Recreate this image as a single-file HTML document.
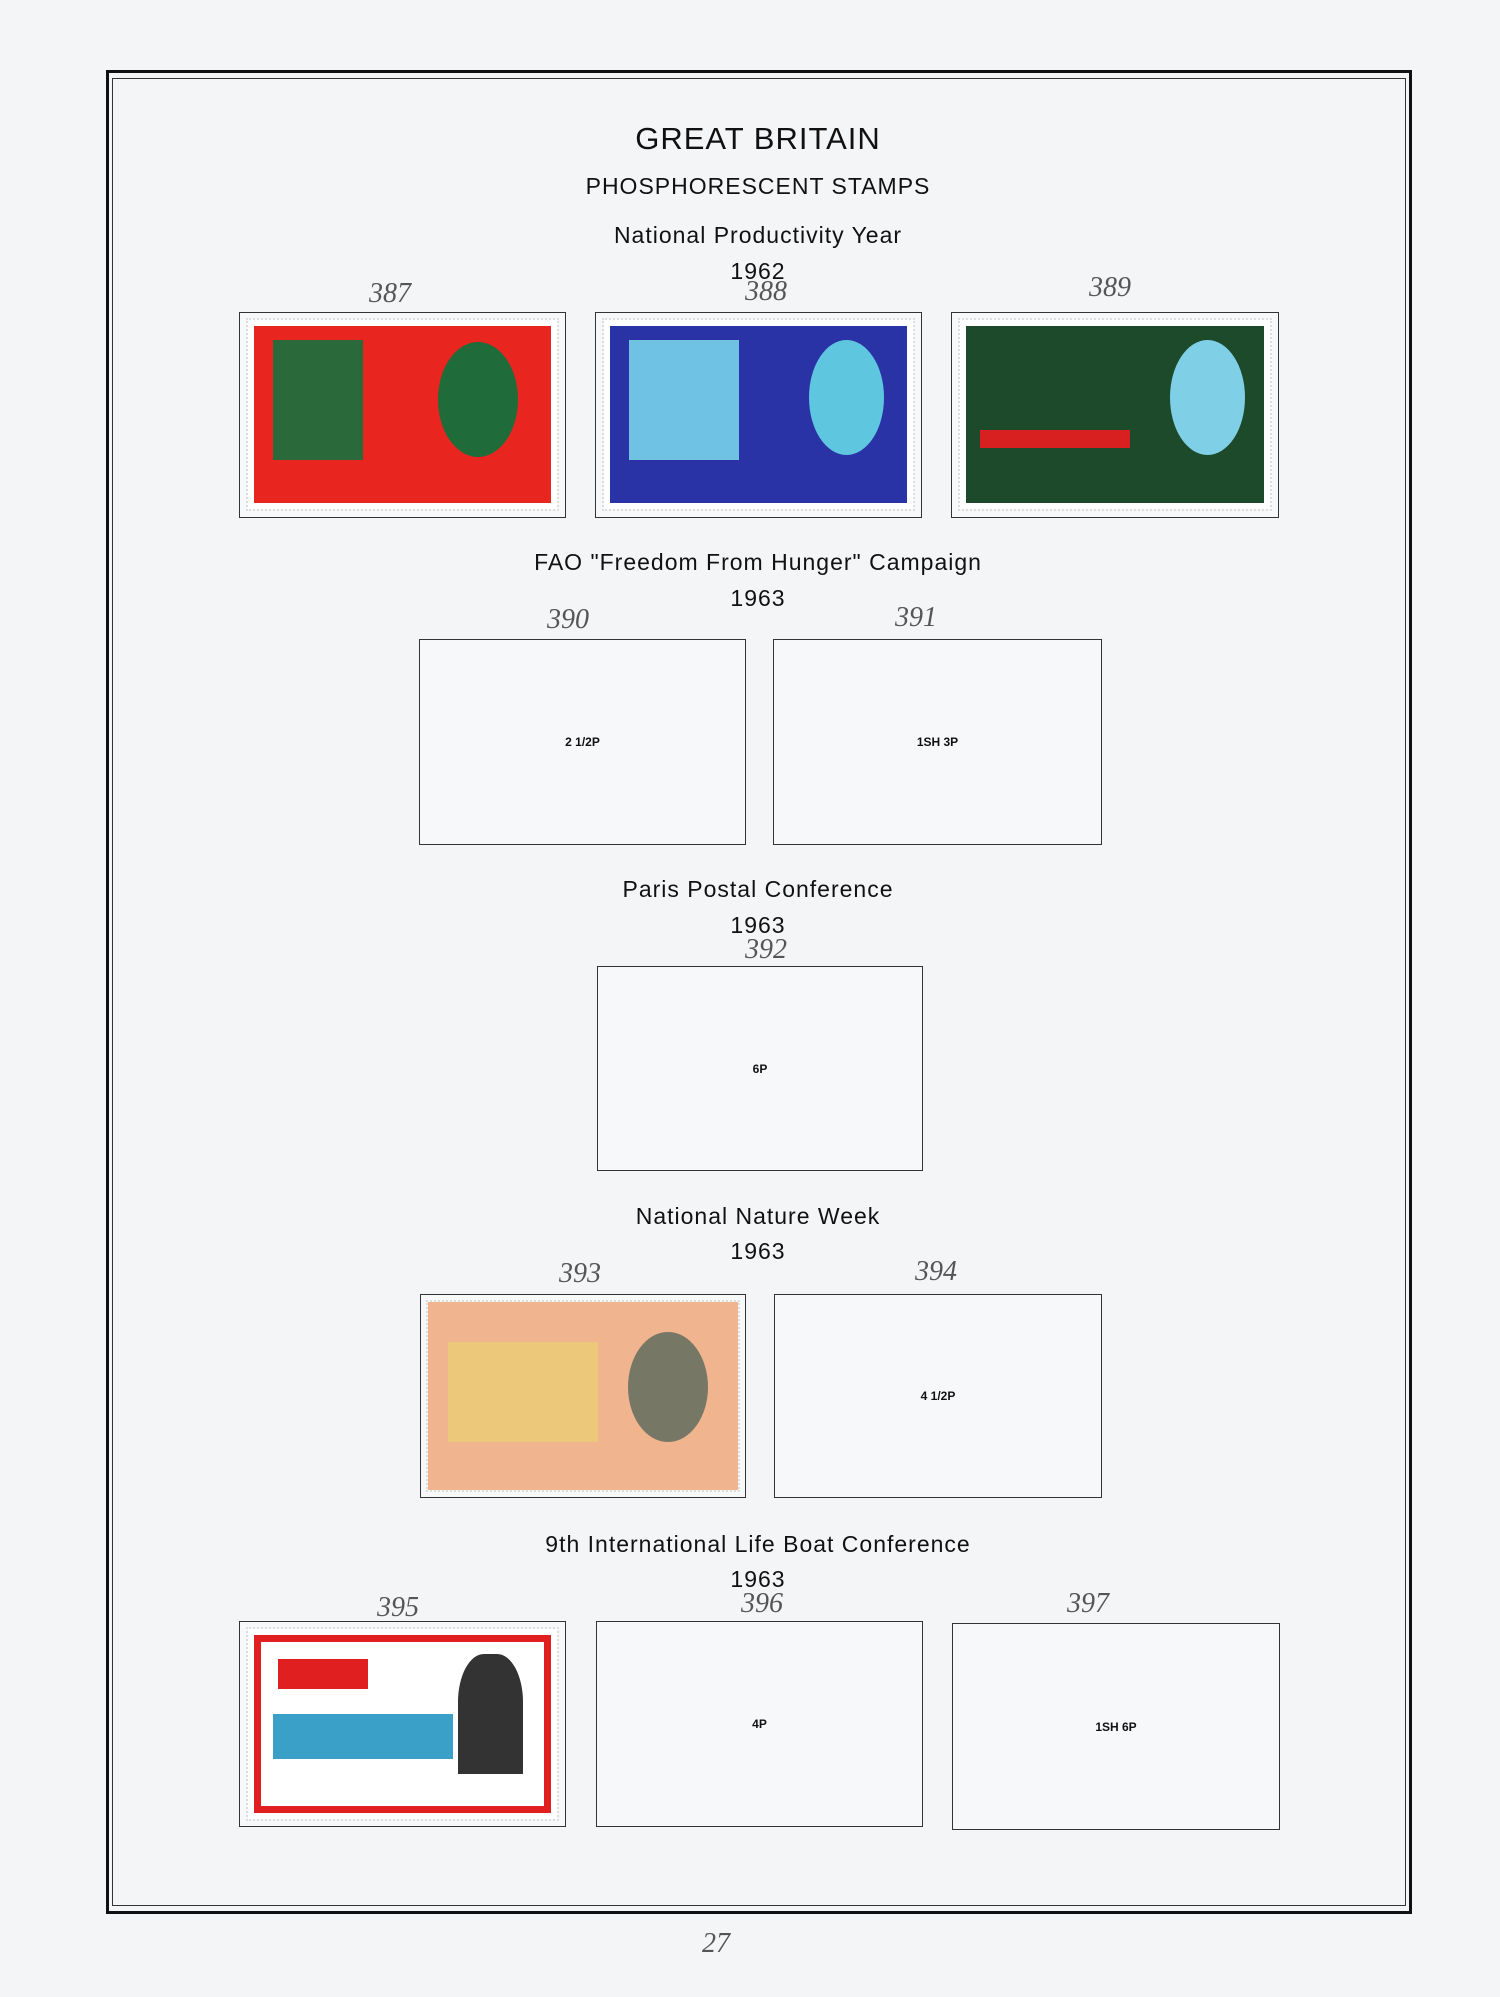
<!DOCTYPE html>
<html><head><meta charset="utf-8"><style>
body{margin:0;width:1500px;height:1997px;background:#f4f5f7;position:relative;overflow:hidden;font-family:"Liberation Sans",sans-serif;color:#111}
.a{position:absolute}
.t{position:absolute;left:0;width:1516px;text-align:center;letter-spacing:1px}
.box{position:absolute;border:1.5px solid #333;box-sizing:border-box;background:#f7f8fa;display:flex;align-items:center;justify-content:center;font-size:12px;font-weight:bold}
.hw{position:absolute;font-family:"Liberation Serif",serif;font-style:italic;font-size:28px;color:#555;width:120px;text-align:center}
.st{position:absolute;background:#fff;outline:2px dotted #ddd}
</style></head><body>
<div class="a" style="left:106px;top:70px;width:1300px;height:1838px;border:3px solid #111"></div>
<div class="a" style="left:112px;top:78px;width:1292px;height:1826px;border:1.5px solid #333"></div>
<div class="t" style="top:121px;font-size:31px">GREAT BRITAIN</div>
<div class="t" style="top:173px;font-size:23px">PHOSPHORESCENT STAMPS</div>
<div class="t" style="top:222px;font-size:23px">National Productivity Year</div>
<div class="t" style="top:258px;font-size:23px">1962</div>
<div class="t" style="top:549px;font-size:23px">FAO "Freedom From Hunger" Campaign</div>
<div class="t" style="top:585px;font-size:23px">1963</div>
<div class="t" style="top:876px;font-size:23px">Paris Postal Conference</div>
<div class="t" style="top:912px;font-size:23px">1963</div>
<div class="t" style="top:1203px;font-size:23px">National Nature Week</div>
<div class="t" style="top:1238px;font-size:23px">1963</div>
<div class="t" style="top:1531px;font-size:23px">9th International Life Boat Conference</div>
<div class="t" style="top:1566px;font-size:23px">1963</div>

<div class="box" style="left:239px;top:312px;width:327px;height:206px"></div>
<div class="st" style="left:248px;top:320px;width:309px;height:189px"><div class="a" style="left:6px;top:6px;width:297px;height:177px;background:#e8261f"></div><div class="a" style="left:190px;top:22px;width:80px;height:115px;border-radius:50%;background:#1f6b3a"></div><div class="a" style="left:25px;top:20px;width:90px;height:120px;background:#2a6a3a"></div></div>
<div class="box" style="left:595px;top:312px;width:327px;height:206px"></div>
<div class="st" style="left:604px;top:320px;width:309px;height:189px"><div class="a" style="left:6px;top:6px;width:297px;height:177px;background:#2a33a6"></div><div class="a" style="left:205px;top:20px;width:75px;height:115px;border-radius:50%;background:#5fc6e0"></div><div class="a" style="left:25px;top:20px;width:110px;height:120px;background:#6fc2e4"></div></div>
<div class="box" style="left:951px;top:312px;width:328px;height:206px"></div>
<div class="st" style="left:960px;top:320px;width:310px;height:189px"><div class="a" style="left:6px;top:6px;width:298px;height:177px;background:#1d4a2a"></div><div class="a" style="left:210px;top:20px;width:75px;height:115px;border-radius:50%;background:#7fd0e6"></div><div class="a" style="left:20px;top:110px;width:150px;height:18px;background:#d82020"></div></div>

<div class="box" style="left:419px;top:639px;width:327px;height:206px">2 1/2P</div>
<div class="box" style="left:773px;top:639px;width:329px;height:206px">1SH 3P</div>
<div class="box" style="left:597px;top:966px;width:326px;height:205px">6P</div>
<div class="box" style="left:420px;top:1294px;width:326px;height:204px"></div>
<div class="st" style="left:428px;top:1302px;width:310px;height:188px;background:#f0b58f"><div class="a" style="left:20px;top:40px;width:150px;height:100px;background:#e8d070;opacity:.7"></div><div class="a" style="left:200px;top:30px;width:80px;height:110px;border-radius:50%;background:#776"></div></div>
<div class="box" style="left:774px;top:1294px;width:328px;height:204px">4 1/2P</div>
<div class="box" style="left:239px;top:1621px;width:327px;height:206px"></div>
<div class="st" style="left:248px;top:1629px;width:309px;height:190px"><div class="a" style="left:6px;top:6px;width:297px;height:178px;border:7px solid #e02020;box-sizing:border-box"></div><div class="a" style="left:25px;top:85px;width:180px;height:45px;background:#3aa0c8"></div><div class="a" style="left:30px;top:30px;width:90px;height:30px;background:#e02020"></div><div class="a" style="left:210px;top:25px;width:65px;height:120px;background:#333;border-radius:40% 40% 0 0"></div></div>
<div class="box" style="left:596px;top:1621px;width:327px;height:206px">4P</div>
<div class="box" style="left:952px;top:1623px;width:328px;height:207px">1SH 6P</div>

<div class="hw" style="left:330px;top:278px">387</div>
<div class="hw" style="left:706px;top:276px">388</div>
<div class="hw" style="left:1050px;top:272px">389</div>
<div class="hw" style="left:508px;top:604px">390</div>
<div class="hw" style="left:856px;top:602px">391</div>
<div class="hw" style="left:706px;top:934px">392</div>
<div class="hw" style="left:520px;top:1258px">393</div>
<div class="hw" style="left:876px;top:1256px">394</div>
<div class="hw" style="left:338px;top:1592px">395</div>
<div class="hw" style="left:702px;top:1588px">396</div>
<div class="hw" style="left:1028px;top:1588px">397</div>
<div class="hw" style="left:656px;top:1928px">27</div>
</body></html>
